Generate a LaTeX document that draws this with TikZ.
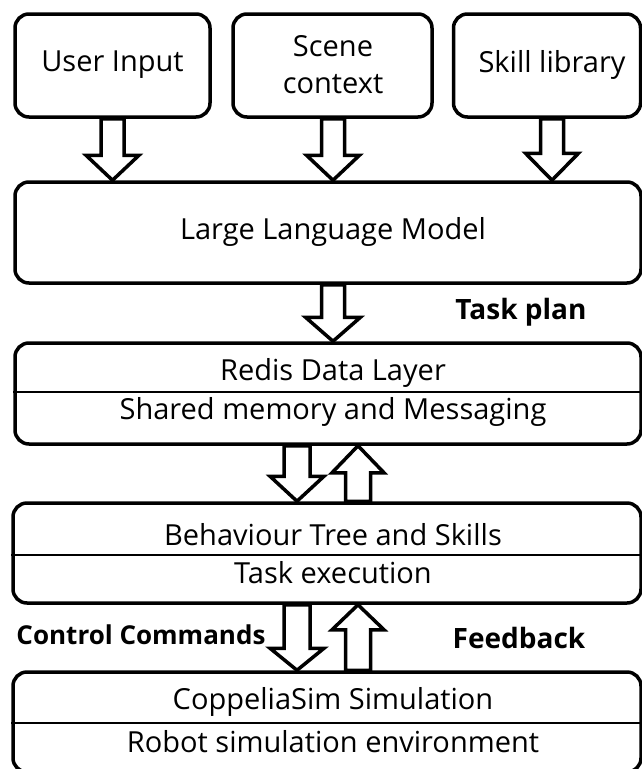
\documentclass[tikz,border=0pt]{standalone}
\usepackage{fontspec}
\setmainfont{Open Sans}
\usetikzlibrary{calc}

\tikzset{
  box/.style={draw, line width=3.5pt, rounded corners=14pt, fill=white, inner sep=0pt},
  lbl/.style={font=\fontsize{29}{37}\selectfont, inner sep=0pt, align=center},
  blbl/.style={font=\fontsize{28}{32}\selectfont\bfseries, inner sep=0pt},
  blk/.style={draw, line width=3.5pt, fill=white, line join=miter, miter limit=10},
  divider/.style={line width=2pt},
}

% hollow block arrow from #1 to #2: shaft half width #3, head half width #4, head length #5
\newcommand\blockarrow[5]{%
  \coordinate (ba) at (#1);
  \coordinate (bb) at (#2);
  \coordinate (bc) at ($(bb)!#5pt!(ba)$);
  \draw[blk] ($(ba)!#3pt!90:(bb)$) -- ($(bc)!#3pt!90:(bb)$) -- ($(bc)!#4pt!90:(bb)$)
    -- (bb) -- ($(bc)!#4pt!-90:(bb)$) -- ($(bc)!#3pt!-90:(bb)$)
    -- ($(ba)!#3pt!-90:(bb)$) -- cycle;
}

\begin{document}
\begin{tikzpicture}[x=1pt, y=-1pt]
  \useasboundingbox[fill=white] (0,0) rectangle (641,769);

  % input sources
  \node[box, minimum width=195pt, minimum height=103pt] (ui) at (112.5,65.5) {};
  \node[box, minimum width=199pt, minimum height=103pt] (sc) at (332.5,65.5) {};
  \node[box, minimum width=187pt, minimum height=103pt] (sk) at (547,65.5) {};
  \node[lbl] (tui) at (112.5,65) {User Input};
  \node[lbl] (tsc) at (333,65) {Scene\\context};
  \node[lbl] (tsk) at (552,65) {Skill library};

  % planner
  \node[box, minimum width=626pt, minimum height=101pt] (llm) at (328,232.5) {};
  \node[lbl] (tllm) at (333,232) {Large Language Model};

  % data layer
  \node[box, minimum width=626pt, minimum height=101pt] (rd) at (328,393.5) {};
  \draw[divider] (rd.west |- 0,392) coordinate (rdl) -- (rd.east |- 0,392) coordinate (rdr);
  \node[lbl] (trd1) at (333,373) {Redis Data Layer};
  \node[lbl] (trd2) at (333,412) {Shared memory and Messaging};

  % execution
  \node[box, minimum width=628pt, minimum height=100pt] (bt) at (327,553) {};
  \draw[divider] (bt.west |- 0,555) coordinate (btl) -- (bt.east |- 0,555) coordinate (btr);
  \node[lbl] (tbt1) at (333,535) {Behaviour Tree and Skills};
  \node[lbl] (tbt2) at (333,573) {Task execution};

  % simulation
  \node[box, minimum width=628pt, minimum height=100pt] (sim) at (327,722) {};
  \draw[divider] (sim.west |- 0,723) coordinate (siml) -- (sim.east |- 0,723) coordinate (simr);
  \node[lbl] (tsim1) at (333,702) {CoppeliaSim Simulation};
  \node[lbl] (tsim2) at (333,742) {Robot simulation environment};

  % arrow columns
  \coordinate (xs) at (552,0);
  \coordinate (xc) at (333,0);
  \coordinate (xd) at (297,0);
  \coordinate (xu) at (358,0);

  \blockarrow{ui.south}{ui.south |- llm.north}{11.5}{26.5}{25}
  \blockarrow{sc.south -| xc}{llm.north -| xc}{11.5}{26.5}{25}
  \blockarrow{sk.south -| xs}{llm.north -| xs}{11.5}{26.5}{27}
  \blockarrow{llm.south -| xc}{rd.north -| xc}{11.5}{27.5}{24}
  \blockarrow{rd.south -| xd}{bt.north -| xd}{13}{27}{25}
  \blockarrow{bt.north -| xu}{rd.south -| xu}{12.5}{26}{27}
  \blockarrow{bt.south -| xd}{sim.north -| xd}{13}{27}{22}
  \blockarrow{sim.north -| xu}{bt.south -| xu}{12.5}{26}{25}

  % flow labels
  \node[blbl] (ltp) at (521,312) {Task plan};
  \node[blbl, font=\fontsize{26}{30}\selectfont\bfseries] (lcc) at (141,635) {Control Commands};
  \node[blbl] (lfb) at (519,638) {Feedback};
\end{tikzpicture}
\end{document}
